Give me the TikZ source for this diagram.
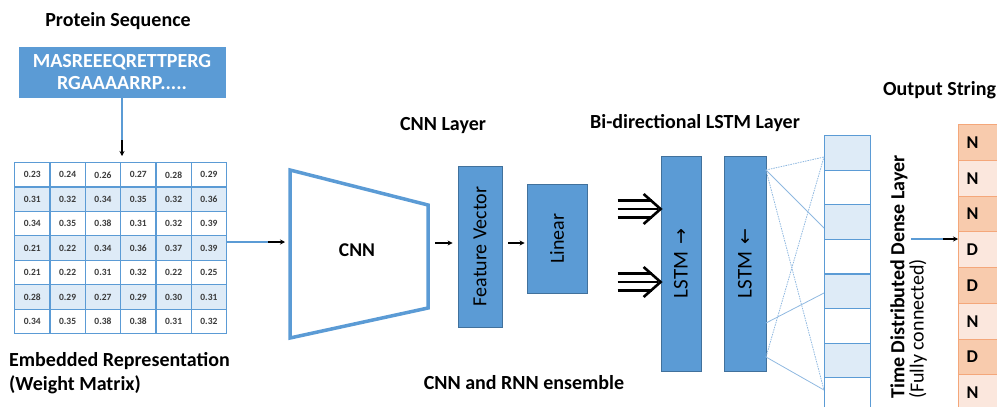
\documentclass[tikz,border=0pt]{standalone}
\usepackage{fontspec}
\setmainfont{Carlito}
\newfontfamily\symfont{DejaVu Sans}
\usetikzlibrary{arrows.meta}

\definecolor{boxblue}{HTML}{5B9BD5}
\definecolor{boxedge}{HTML}{41719C}
\definecolor{celllight}{HTML}{DEEBF7}
\definecolor{thinblue}{HTML}{8FB8E0}
\definecolor{outedge}{HTML}{F4A77A}
\definecolor{outdark}{HTML}{F8CBAD}
\definecolor{outlight}{HTML}{FBE7DD}
\definecolor{numgray}{HTML}{3A3A3A}

\begin{document}
\begin{tikzpicture}[x=1pt,y=-1pt,
  title/.style={font=\bfseries\fontsize{20}{23}\selectfont, inner sep=0},
  plain/.style={font=\fontsize{20}{23}\selectfont, inner sep=0},
  solidbox/.style={draw=boxedge, fill=boxblue, line width=0.8pt, inner sep=0,
                   font=\fontsize{20}{22}\selectfont, text=black},
  gridcell/.style={draw=boxblue, line width=1.2pt, inner sep=0, anchor=north west,
                   minimum width=35.33pt, minimum height=24.43pt,
                   font=\bfseries\fontsize{9.5}{11}\selectfont, text=numgray},
  densecell/.style={draw=boxblue, line width=1.2pt, inner sep=0, anchor=north west,
                    minimum width=46pt, minimum height=34.6pt},
  outcell/.style={draw=outedge, line width=1.2pt, anchor=north west, inner xsep=8pt,
                  inner ysep=0, minimum height=35.75pt, text width=44pt, align=left,
                  font=\bfseries\fontsize{18}{20}\selectfont},
  feedline/.style={draw=boxblue, line width=2.2pt},
  blkarrow/.style={draw=black, line width=1.5pt, -{Stealth[length=5pt,width=5pt]}},
  fanline/.style={draw=thinblue, line width=0.8pt},
  fandot/.style={draw=thinblue, line width=0.8pt, dash pattern=on 1.5pt off 1pt},
  triple/.style={draw=black, line width=2.6pt}]

\useasboundingbox (0,0) rectangle (997,407);
\clip (0,0) rectangle (997,407);

% ---- input sequence ----
\node[title] (ttlseq) at (118,21) {Protein Sequence};
\node[fill=boxblue, draw=boxblue, minimum width=206pt, minimum height=50pt, inner sep=0,
      text=white, align=center, font=\bfseries\fontsize{20}{22}\selectfont]
  (seq) at (122,72) {MASREEEQRETTPERG\\RGAAAARRP.....};

% ---- embedding matrix ----
\foreach \row [count=\r] in {
  {0.23,0.24,0.26,0.27,0.28,0.29},
  {0.31,0.32,0.34,0.35,0.32,0.36},
  {0.34,0.35,0.38,0.31,0.32,0.39},
  {0.21,0.22,0.34,0.36,0.37,0.39},
  {0.21,0.22,0.31,0.32,0.22,0.25},
  {0.28,0.29,0.27,0.29,0.30,0.31},
  {0.34,0.35,0.38,0.38,0.31,0.32}} {
  \foreach \v [count=\c] in \row {
    \edef\cellfill{\ifodd\r white\else celllight\fi}
    \node[gridcell, fill=\cellfill] (m-\r-\c)
      at ({14+35.33*(\c-1)},{162+24.43*(\r-1)}) {\v};
  }
}
\node[title, anchor=west] (ttlemb1) at (9,361) {Embedded Representation};
\node[title, anchor=west] (ttlemb2) at (9,385) {(Weight Matrix)};

\coordinate (seqmid) at (122,140);
\coordinate (seqend) at (122,156);
\draw[feedline] (seq.south) -- (seqmid);
\draw[blkarrow] (seqmid) -- (seqend);

% ---- CNN block ----
\coordinate (cnnA) at (290,170);
\coordinate (cnnB) at (428,205);
\coordinate (cnnC) at (428,308);
\coordinate (cnnD) at (290,338);
\draw[draw=boxblue, line width=3.5pt, line join=miter] (cnnA) -- (cnnB) -- (cnnC) -- (cnnD) -- cycle;
\node[title, font=\bfseries\fontsize{19.5}{22}\selectfont] (cnn) at (357,250) {CNN};

\coordinate (mout) at (226,242);
\coordinate (mmid) at (268,242);
\coordinate (cnnin) at (285,242);
\draw[feedline] (mout) -- (mmid);
\draw[blkarrow] (mmid) -- (cnnin);

\node[title] (ttlcnn) at (443,126) {CNN Layer};
\node[solidbox, rotate=90, minimum width=161pt, minimum height=44pt] (fv) at (480,246.5) {Feature Vector};
\node[solidbox, rotate=90, minimum width=109pt, minimum height=60pt] (lin) at (557,238.5) {Linear};

\coordinate (cnnout) at (435,243);
\draw[blkarrow] (cnnout) -- ([xshift=-5pt]fv.north |- cnnout);
\coordinate (fvout) at (508,243);
\draw[blkarrow] (fvout) -- ([xshift=-2pt]lin.north |- fvout);

% ---- bidirectional LSTM ----
\node[title] (ttllstm) at (695,123) {Bi-directional LSTM Layer};
\node[solidbox, rotate=90, minimum width=215pt, minimum height=40pt,
      font=\fontsize{21}{23}\selectfont] (fwd) at (681,263.5)
  {LSTM\hspace{7pt}{\symfont\fontsize{19}{21}\selectfont →}};
\node[solidbox, rotate=90, minimum width=215pt, minimum height=42pt,
      font=\fontsize{21}{23}\selectfont] (bwd) at (745,263.5)
  {LSTM\hspace{7pt}{\symfont\fontsize{19}{21}\selectfont ←}};

% triple-shafted input arrows
\foreach \yy/\nm in {209/ta, 282/tb} {
  \coordinate (\nm) at (fwd.north |- {(0,\yy)});
  \draw[triple] ([xshift=-43pt,yshift=-8.5pt]\nm) -- ([xshift=-9pt,yshift=-8.5pt]\nm);
  \draw[triple] ([xshift=-43pt]\nm) -- ([xshift=-3pt]\nm);
  \draw[triple] ([xshift=-43pt,yshift=8.5pt]\nm) -- ([xshift=-9pt,yshift=8.5pt]\nm);
  \draw[triple, line join=miter] ([xshift=-17pt,yshift=-15pt]\nm) -- (\nm) -- ([xshift=-17pt,yshift=15pt]\nm);
}

% ---- time distributed dense column ----
\foreach \i in {1,...,8} {
  \edef\cellfill{\ifodd\i celllight\else white\fi}
  \node[densecell, fill=\cellfill] (d\i) at (824,{135+34.6*(\i-1)}) {};
}

\coordinate (pa) at (766,170);
\coordinate (pb) at (766,323);
\coordinate (pc) at (766,357);
\coordinate (qa) at (824,157);
\coordinate (qb) at (824,228);
\coordinate (qc) at (824,293);
\coordinate (qd) at (824,390);
\draw[fandot] (pa) -- (qa);
\draw[fanline] (pa) -- (qb);
\draw[fandot] (pa) -- (qd);
\draw[fanline] (pb) -- (qc);
\draw[fandot] (pc) -- (qa);
\draw[fanline] (pc) -- (qd);

\node[title, rotate=90, anchor=west] (ttldense) at (899,399) {Time Distributed Dense Layer};
\node[plain, rotate=90, anchor=west] (ttlfc) at (918,399) {(Fully connected)};

% ---- output string ----
\node[title, anchor=west] (ttlout) at (883,90) {Output String};
\foreach \ch [count=\i] in {N,N,N,D,D,N,D,N} {
  \edef\cellfill{\ifodd\i outdark\else outlight\fi}
  \node[outcell, fill=\cellfill] (o\i) at (958,{124+35.75*(\i-1)}) {\ch};
}

\coordinate (dout) at (911,239);
\coordinate (dmid) at (943,239);
\draw[feedline] (dout) -- (dmid);
\draw[blkarrow] (dmid) -- (o4.west |- dmid);

\node[title] (ttlens) at (524,383) {CNN and RNN ensemble};
\end{tikzpicture}
\end{document}
